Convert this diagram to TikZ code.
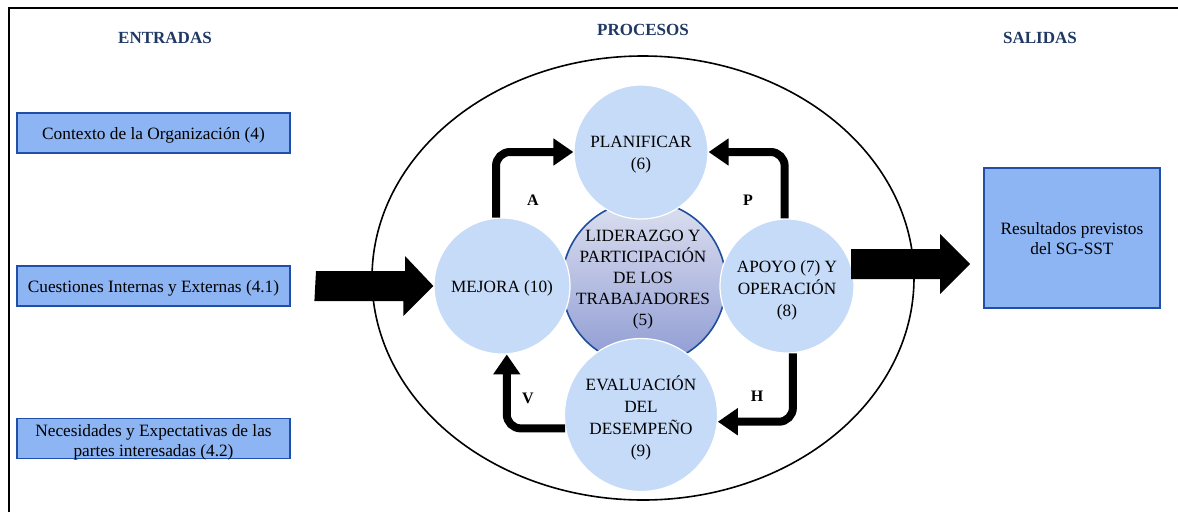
\documentclass[tikz,border=0pt]{standalone}
\usepackage{fontspec}
\setmainfont{Liberation Serif}
\usetikzlibrary{arrows.meta,calc}
\definecolor{hdr}{HTML}{1F3864}
\definecolor{boxfill}{HTML}{8DB4F3}
\definecolor{boxline}{HTML}{1F4FA8}
\definecolor{circfill}{HTML}{C5DBF8}
\definecolor{ctop}{HTML}{DDE0F0}
\definecolor{cbot}{HTML}{8E9BD3}
\definecolor{cline}{HTML}{1F4E9C}
\tikzset{
  hdrtext/.style={font=\fontsize{17}{19}\selectfont\bfseries, text=hdr},
  inbox/.style={draw=boxline, line width=1.6pt, fill=boxfill, minimum width=273pt, minimum height=40pt, inner sep=0pt},
  boxtext/.style={align=center, font=\fontsize{17.3}{20}\selectfont, inner sep=0pt},
  proc/.style={circle, fill=circfill, draw=white, line width=1.2pt, inner sep=0pt},
  proctext/.style={align=center, font=\fontsize{17.2}{22}\selectfont, inner sep=0pt},
  flow/.style={line width=8pt, rounded corners=14pt, -{Triangle[length=20pt,width=26pt]}},
  lbl/.style={font=\fontsize{16}{18}\selectfont\bfseries},
  bigarrow/.style={fill=black}
}
\begin{document}
\begin{tikzpicture}[x=1pt,y=-1pt]
\useasboundingbox (0,0) rectangle (1178,512);
\fill[white] (0,0) rectangle (1178,512);
% frame
\draw[line width=2.5pt] (9,512) -- (9,8) -- (1178,8);
% headers
\node[hdrtext] (hin) at (165,38) {ENTRADAS};
\node[hdrtext] (hproc) at (643,30) {PROCESOS};
\node[hdrtext] (hout) at (1040,38) {SALIDAS};
% input boxes
\node[inbox] (ctx) at (153.5,133) {};
\node[boxtext] at ($(ctx)+(0,2)$) {Contexto de la Organización (4)};
\node[inbox] (cue) at (153.5,286) {};
\node[boxtext] at ($(cue)+(0,2)$) {Cuestiones Internas y Externas (4.1)};
\node[inbox] (nec) at (153.5,438.5) {};
\node[boxtext] at ($(nec)+(0,4)$) {Necesidades y Expectativas de las\\partes interesadas (4.2)};
% output box
\node[draw=boxline, line width=1.6pt, fill=boxfill, minimum width=176pt, minimum height=140pt, inner sep=0pt] (res) at (1072,238) {};
\node[boxtext] (rest) at (1072,239) {Resultados previstos\\del SG-SST};
% outer ellipse
\draw[line width=1.6pt] (643,278) ellipse [x radius=271, y radius=222];
% center circle
\node[circle, minimum size=164pt, inner sep=0pt, top color=ctop, bottom color=cbot, draw=cline, line width=1.6pt] (lid) at (644,283) {};
% process circles
\node[proc, minimum size=134pt] (plan) at (641,152) {};
\node[proctext] at ($(plan)+(0,3)$) {PLANIFICAR\\(6)};
\node[proc, minimum size=136pt] (mej) at (502,286) {};
\node[proctext] at ($(mej)+(0,2)$) {MEJORA (10)};
\node[proc, minimum size=134pt] (apo) at (787,286) {};
\node[proctext] at ($(apo)+(0,4)$) {APOYO (7) Y\\OPERACIÓN\\(8)};
\node[proc, minimum size=153pt] (eva) at (641,415) {};
\node[proctext] at ($(eva)+(0,3)$) {EVALUACIÓN\\DEL\\DESEMPEÑO\\(9)};
\node[align=center, font=\fontsize{17.2}{21}\selectfont, inner sep=0pt] (lidt) at (643,280) {LIDERAZGO Y\\PARTICIPACIÓN\\DE LOS\\TRABAJADORES\\(5)};
% cycle arrows
\draw[flow] (mej.95) |- (plan.west);
\draw[flow] (apo.92) |- (plan.east);
\draw[flow] (apo.-85) |- (eva.-5);
\draw[flow] (eva.190) -| (mej.-86);
\node[lbl] (la) at (533,200) {A};
\node[lbl] (lp) at (748,200) {P};
\node[lbl] (lh) at (757,396) {H};
\node[lbl] (lv) at (528,398) {V};
% big arrows
\coordinate (ina) at (316,286);
\coordinate (outa) at (851,264);
\fill[bigarrow] (ina) ++(0,-15) -- ++(89,0) -- ++(0,-15) -- (mej.west) -- ++(-30,30) -- ++(0,-15) -- ++(-89,0) -- cycle;
\fill[bigarrow] (outa) ++(0,-15) -- ++(89,0) -- ++(0,-15) -- ++(30,30) -- ++(-30,30) -- ++(0,-15) -- ++(-89,0) -- cycle;
\end{tikzpicture}
\end{document}
